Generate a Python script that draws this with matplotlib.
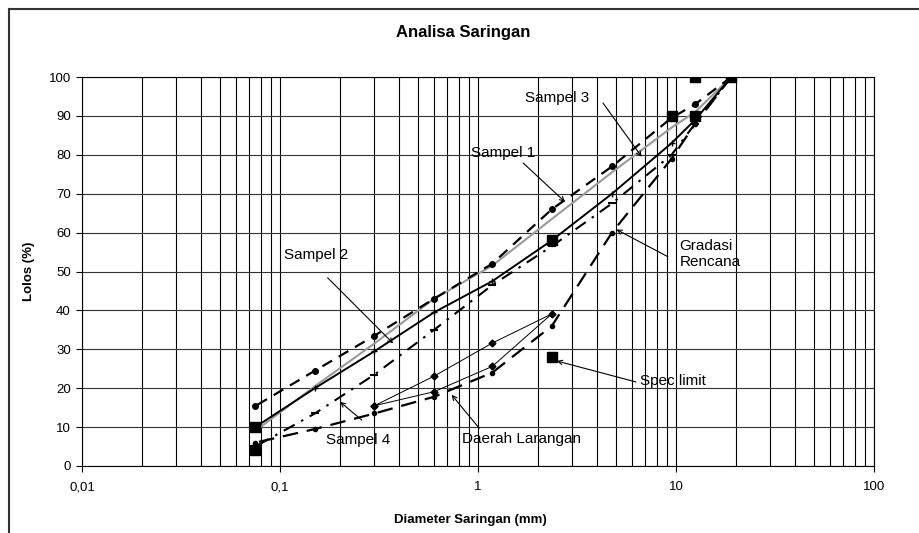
import matplotlib
matplotlib.use("Agg")
import matplotlib.pyplot as plt
import matplotlib.ticker as mticker
from matplotlib.lines import Line2D

plt.rcParams.update({
    "font.family": ["Liberation Sans", "DejaVu Sans"],
    "font.size": 10,
})

# data (% lolos per ukuran saringan, mm)
saringan = [19, 12.5, 9.5, 4.75, 2.36, 1.18, 0.6, 0.3, 0.15, 0.075]
sampel1 = [100, 93, 89.5, 77, 66, 52, 43, 33.5, 24.5, 15.4]
sampel2 = [100, 89, 83, 70, 58, 47.5, 39.5, 29.5, 20, 10]
sampel3 = [100, 91, 87, 75.5, 63.5, 51.5, 43, 31.5, 20.5, 9]
sampel4 = [100, 88, 80, 67.5, 56.5, 46.5, 35, 23.5, 13.5, 5]
gradasi = [100, 88, 79, 60, 36, 24, 17.8, 13.5, 9.5, 6]

spec_x = [0.075, 0.075, 2.36, 2.36, 9.5, 12.5, 12.5, 19]
spec_y = [10, 4, 28, 58, 90, 100, 90, 100]

larangan_x = [0.3, 0.6, 1.18, 2.36, 1.18, 0.6, 0.3]
larangan_y = [15.5, 23.1, 31.6, 39.1, 25.6, 19.1, 15.5]

x_ticks = [0.01, 0.1, 1, 10, 100]
x_ticklabels = ["0,01", "0,1", "1", "10", "100"]
y_ticks = list(range(0, 101, 10))

fig = plt.figure(figsize=(9.2, 5.33), dpi=100)
ax = fig.add_axes([82 / 920, 67 / 533, 792 / 920, 389 / 533])

ax.plot(saringan, sampel3, color="#9a9a9a", lw=1.5, zorder=3)
ax.plot(saringan, sampel2, color="black", lw=1.4, marker="+", ms=5, zorder=3)
ax.plot(saringan, sampel1, color="black", lw=1.6, dashes=(5, 3.5),
        marker="o", ms=4, zorder=3)
ax.plot(saringan, sampel4, color="black", lw=1.5, dashes=(6, 3.5, 1.2, 3.5),
        marker="_", ms=6, mew=1.5, zorder=3)
ax.plot(saringan, gradasi, color="black", lw=1.6, dashes=(7, 4),
        marker="o", ms=3, zorder=3)
ax.plot(larangan_x, larangan_y, color="black", lw=0.7, marker="D", ms=3.5, zorder=3)
ax.plot(spec_x, spec_y, ls="none", marker="s", ms=7, color="black", zorder=4)

ax.set_xscale("log")
ax.set_xlim(0.01, 100)
ax.set_ylim(0, 100)
ax.set_xticks(x_ticks)
ax.set_xticklabels(x_ticklabels)
ax.set_yticks(y_ticks)
ax.xaxis.set_minor_locator(mticker.LogLocator(base=10, subs=range(2, 10)))
ax.xaxis.set_minor_formatter(mticker.NullFormatter())
ax.tick_params(axis="x", which="minor", length=0)
ax.tick_params(axis="both", which="major", length=4, width=0.8, labelsize=9.5,
               color="black", direction="out")
ax.tick_params(axis="x", pad=7)
ax.tick_params(axis="y", pad=4)
ax.grid(True, which="both", axis="x", color="black", lw=0.8)
ax.grid(True, which="major", axis="y", color="#333333", lw=0.8)
ax.set_axisbelow(True)
for s in ax.spines.values():
    s.set_color("black")
    s.set_linewidth(0.8)

fig.text(463 / 920, 1 - 32 / 533, "Analisa Saringan", ha="center", va="center",
         fontsize=12, fontweight="bold")
ax.set_xlabel("Diameter Saringan (mm)", fontsize=9.5, fontweight="bold",
              labelpad=15, x=(470 - 82) / 792)
ax.set_ylabel("Lolos (%)", fontsize=9.5, fontweight="bold", labelpad=10)

arrow = dict(arrowstyle="->", lw=0.8, color="black", shrinkA=0, shrinkB=0,
             mutation_scale=8)
labels = [
    ("Sampel 3", (1.72, 94.6), (4.28, 93.3), (6.71, 79.5), "left"),
    ("Sampel 1", (1.34, 80.5), (1.69, 77.9), (2.75, 67.9), "center"),
    ("Sampel 2", (0.152, 54.2), (0.174, 48.4), (0.373, 31.5), "center"),
    ("Sampel 4", (0.248, 6.7), (0.259, 11.8), (0.201, 16.5), "center"),
    ("Daerah Larangan", (1.65, 6.9), (1.015, 9.7), (0.736, 18.3), "center"),
    ("Gradasi\nRencana", (10.4, 54.5), (9.1, 53.8), (5.0, 60.8), "left"),
    ("Spec limit", (6.6, 21.9), (6.28, 21.6), (2.5, 27.0), "left"),
]
for txt, pos, start, tip, ha in labels:
    ax.text(pos[0], pos[1], txt, ha=ha, va="center", fontsize=11,
            linespacing=1.25, zorder=5)
    ax.annotate("", xy=tip, xytext=start, arrowprops=arrow, zorder=5)

# bingkai chart
fig.add_artist(Line2D([9 / 920, 9 / 920], [0, 1 - 9 / 533], color="#333333", lw=1.5))
fig.add_artist(Line2D([9 / 920, 1], [1 - 9 / 533, 1 - 9 / 533], color="#333333", lw=1.5))

fig.savefig("out.png", dpi=100)
